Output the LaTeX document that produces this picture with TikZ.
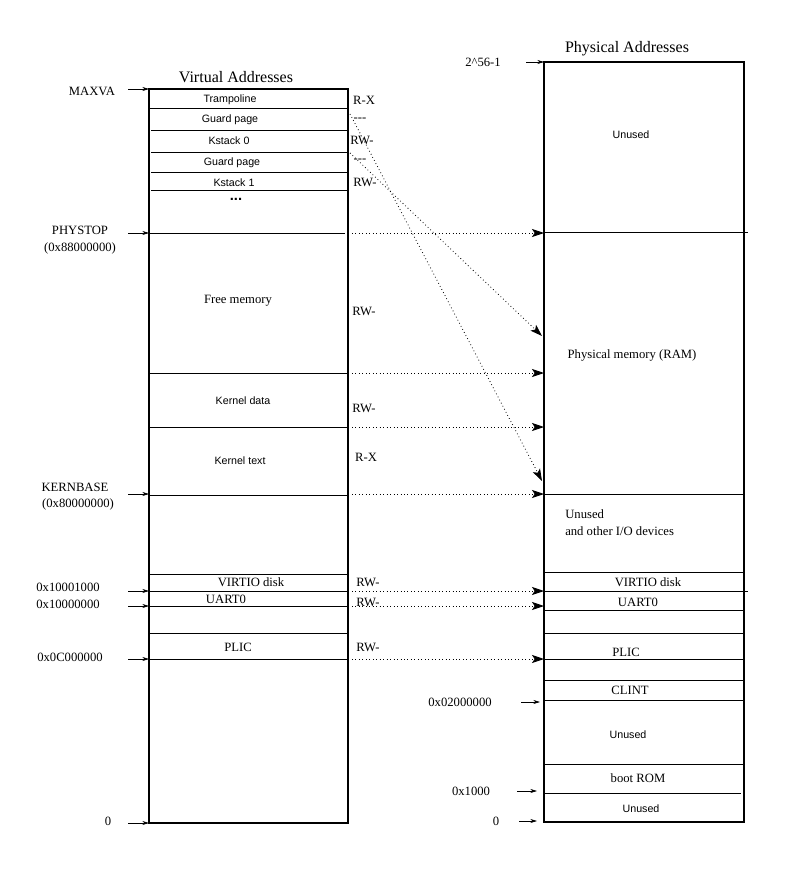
\documentclass[tikz,border=0pt]{standalone}
\usepackage{fontspec}
\setmainfont{Liberation Serif}
\setsansfont{Liberation Sans}
\usetikzlibrary{arrows.meta}
\begin{document}
\begin{tikzpicture}[x=0.75pt,y=-0.75pt,
  lbl/.style={font=\fontsize{9.5}{10}\selectfont,inner sep=0pt},
  slbl/.style={font=\sffamily\fontsize{8}{9}\selectfont,inner sep=0pt},
  ttl/.style={font=\fontsize{12}{13}\selectfont,inner sep=0pt},
  box/.style={draw,line width=0.8pt},
  sep/.style={line width=0.6pt},
  addr/.style={-{Stealth[length=5pt,width=3pt]},line width=0.5pt},
  map/.style={dotted,line width=0.6pt,-{Stealth[length=9pt,width=6pt,inset=2pt]}}]
\useasboundingbox (0,0) rectangle (810,878);
% boxes
\draw[box] (149,89) rectangle (348,823);
\draw[box] (544,62) rectangle (744,822);
\node[ttl] (vt) at (236,77) {Virtual Addresses};
\node[ttl] (pt) at (627,49) {Physical Addresses};
% left separators
\foreach \y/\a in {108/149,130/151,152/151,172/151,190/151,373/149,427/149,574/149,591/149,606/149,633/149,659/149}
  \draw[sep] (\a,\y) -- (348,\y);
\draw[sep] (149,233) -- (345,233);
\draw[sep] (149,495) -- (348,495);
% right separators
\foreach \y in {494,572,610,633,659,680,700,764}
  \draw[sep] (544,\y) -- (744,\y);
\draw[sep] (544,232) -- (748,232);
\draw[sep] (544,591) -- (748,591);
\draw[sep] (544,793) -- (741,793);
% left texts
\node[slbl] (tr) at (230,100) {Trampoline};
\node[slbl] (g0) at (230,120) {Guard page};
\node[slbl] (k0) at (229,141) {Kstack 0};
\node[slbl] (g1) at (232,163) {Guard page};
\node[slbl] (k1) at (234,183) {Kstack 1};
\node[inner sep=0pt,text height=2pt,text depth=0pt,font=\sffamily\bfseries\fontsize{11}{11}\selectfont] (dots) at (236,199) {...};
\node[lbl] (fm) at (238,301) {Free memory};
\node[slbl] (kd) at (243,401) {Kernel data};
\node[slbl] (kt) at (240,461) {Kernel text};
\node[lbl] (vd) at (251,582) {VIRTIO disk};
\node[lbl] (u0) at (226,599) {UART0};
\node[lbl] (pl) at (238,647) {PLIC};
% perms
\foreach \x/\y/\t [count=\i] in {364/100/R-X,360/120/{-}{-}{-},362/140/RW-,360/161/{-}{-}{-},365/182/RW-,364/311/RW-,364/408/RW-,366/457/R-X,368/582/RW-,368/602/RW-,368/647/RW-}
  \node[lbl] (p\i) at (\x,\y) {\t};
% right texts
\node[slbl] (un1) at (631,135) {Unused};
\node[lbl] (ram) at (632,355) {Physical memory (RAM)};
\node[lbl,anchor=west] (un2) at (565,514) {Unused};
\node[lbl,anchor=west] (io) at (565,531) {and other I/O devices};
\node[lbl] (rvd) at (648,582) {VIRTIO disk};
\node[lbl] (ru0) at (638,602) {UART0};
\node[lbl] (rpl) at (626,652) {PLIC};
\node[lbl] (rcl) at (630,690) {CLINT};
\node[slbl] (un3) at (628,735) {Unused};
\node[lbl] (rom) at (638,778) {boot ROM};
\node[slbl] (un4) at (641,809) {Unused};
% left address labels
\node[lbl] (maxva) at (92,91) {MAXVA};
\node[lbl] (ps) at (80,230) {PHYSTOP};
\node[lbl] (psv) at (80,248) {(0x88000000)};
\node[lbl] (kb) at (75,487) {KERNBASE};
\node[lbl] (kbv) at (78,504) {(0x80000000)};
\node[lbl] (a1) at (68,587) {0x10001000};
\node[lbl] (a2) at (68,604) {0x10000000};
\node[lbl] (a3) at (70,657) {0x0C000000};
\node[lbl] (a0) at (108,821) {0};
\coordinate (m1) at (128,89); \coordinate (m2) at (149,89);
\draw[addr] (m1) -- (m2);
\coordinate (m3) at (128,233); \coordinate (m4) at (149,233);
\draw[addr] (m3) -- (m4);
\coordinate (m5) at (128,494); \coordinate (m6) at (149,494);
\draw[addr] (m5) -- (m6);
\coordinate (m7) at (128,591); \coordinate (m8) at (149,591);
\draw[addr] (m7) -- (m8);
\coordinate (m9) at (128,606); \coordinate (m10) at (149,606);
\draw[addr] (m9) -- (m10);
\coordinate (m11) at (128,659); \coordinate (m12) at (149,659);
\draw[addr] (m11) -- (m12);
\coordinate (m13) at (128,823); \coordinate (m14) at (149,823);
\draw[addr] (m13) -- (m14);
% right address labels
\node[lbl] (top) at (483,62) {2\^{}56-1};
\node[lbl] (b2) at (460,702) {0x02000000};
\node[lbl] (b1) at (471,791) {0x1000};
\node[lbl] (b0) at (496,821) {0};
\coordinate (n1) at (526,62); \coordinate (n2) at (544,62);
\draw[addr] (n1) -- (n2);
\coordinate (n3) at (521,702); \coordinate (n4) at (540,702);
\draw[addr] (n3) -- (n4);
\coordinate (n5) at (517,791); \coordinate (n6) at (537,791);
\draw[addr] (n5) -- (n6);
\coordinate (n7) at (519,821); \coordinate (n8) at (537,821);
\draw[addr] (n7) -- (n8);
% mapping arrows
\foreach \y in {233,373,427,494,591,606,659}{
  \coordinate (s\y) at (352,\y); \coordinate (e\y) at (544,\y);
  \draw[map] (s\y) -- (e\y);}
\coordinate (d1) at (350,114); \coordinate (d2) at (542,481);
\draw[map] (d1) -- (d2);
\coordinate (d3) at (350,153); \coordinate (d4) at (542,336);
\draw[map] (d3) -- (d4);
\end{tikzpicture}
\end{document}
